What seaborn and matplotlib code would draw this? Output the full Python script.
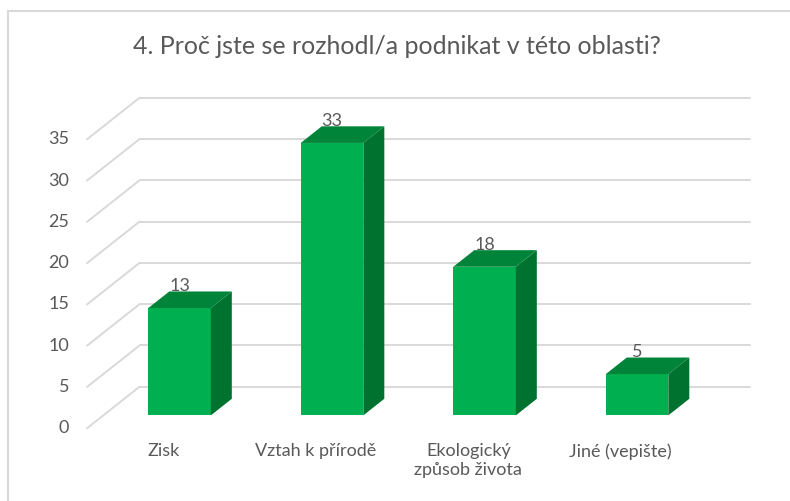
import matplotlib
matplotlib.use("Agg")
import matplotlib.pyplot as plt
import seaborn as sns
import pandas as pd
from matplotlib.patches import Polygon
from matplotlib.lines import Line2D

# ---- data ----
categories = ["Zisk", "Vztah k přírodě", "Ekologický\nzpůsob života", "Jiné (vepište)"]
values = [13, 33, 18, 5]
y_ticks = [0, 5, 10, 15, 20, 25, 30, 35]
title = "4. Proč jste se rozhodl/a podnikat v této oblasti?"

sns.set_theme(style="white")
plt.rcParams['font.family'] = ['Lato', 'DejaVu Sans']
TXT = "#595959"
GRID = "#d9d9d9"

W, H = 790, 501
fig = plt.figure(figsize=(W / 100, H / 100), dpi=100)
fig.patch.set_facecolor("white")

# axes = plane of the bars' front faces
ax_l, ax_r, ax_b, ax_t = 103.3, 713.3, 415.4, 126.4
ax = fig.add_axes([ax_l / W, (H - ax_b) / H, (ax_r - ax_l) / W, (ax_b - ax_t) / H])
df = pd.DataFrame({"cat": categories, "val": values})
sns.barplot(data=df, x="cat", y="val", color="#00b050", saturation=1,
            width=0.41, ax=ax, zorder=3, linewidth=0)
ax.set_xlim(-0.5, 3.5)
ax.set_ylim(0, 35)
ax.axis("off")

px_x = (ax_r - ax_l) / 4.0
px_y = (ax_b - ax_t) / 35.0
DX, DY = 52.5, 41.5     # full depth offset in px (right, up)
T0 = 0.31               # depth position of bar front faces
BD = 0.40               # bar depth fraction


def off(t):
    return (t - T0) * DX / px_x, (t - T0) * DY / px_y


# wall gridlines
fx, fy = off(0)
bx, by = off(1)
for v in y_ticks:
    ax.add_line(Line2D([-0.5 + fx, -0.5 + bx], [v + fy, v + by], color=GRID,
                       lw=1.4, clip_on=False, zorder=1))
    ax.add_line(Line2D([-0.5 + bx, 3.5 + bx], [v + by, v + by], color=GRID,
                       lw=1.4, clip_on=False, zorder=1))
    ax.text(-0.5 + fx - 17.7 / px_x, v + fy, str(v), ha="right", va="center",
            color=TXT, fontsize=13)

# 3D faces
ddx, ddy = BD * DX / px_x, BD * DY / px_y
for p, v in zip(ax.patches, values):
    x, w, h = p.get_x(), p.get_width(), p.get_height()
    side = Polygon([(x + w, 0), (x + w + ddx, ddy), (x + w + ddx, h + ddy), (x + w, h)],
                   closed=True, facecolor="#00722f", edgecolor="none", zorder=3, clip_on=False)
    top = Polygon([(x, h), (x + ddx, h + ddy), (x + w + ddx, h + ddy), (x + w, h)],
                  closed=True, facecolor="#00843a", edgecolor="none", zorder=3, clip_on=False)
    ax.add_patch(side)
    ax.add_patch(top)
    ax.text(x + w / 2, h + ddy + 5.5 / px_y, str(v), ha="center", va="center",
            color=TXT, fontsize=13, zorder=5, clip_on=False)

# category labels
for i, c in enumerate(categories):
    ax.text(i + fx, (ax_b - 443) / px_y, c, ha="center", va="top",
            multialignment="center", linespacing=1.25, color=TXT, fontsize=13,
            clip_on=False)

# title
t = fig.text(397 / W, 1 - 47 / H, title, ha="center", va="center", color=TXT,
             fontsize=18)
r = fig.canvas.get_renderer()
wt = t.get_window_extent(r).width
t.set_fontsize(18 * 528 / wt)

# chart border (left and top visible)
fig.add_artist(Line2D([8 / W, 8 / W], [0, 1 - 11 / H], transform=fig.transFigure,
                      color=GRID, lw=1.5))
fig.add_artist(Line2D([8 / W, 1], [1 - 11 / H, 1 - 11 / H], transform=fig.transFigure,
                      color=GRID, lw=1.5))

fig.savefig("out.png", dpi=100)
